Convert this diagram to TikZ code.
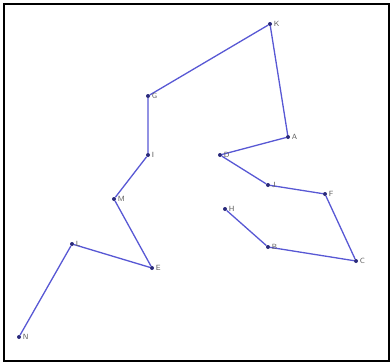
\documentclass[tikz,border=0pt]{standalone}
\usepackage{xcolor}
\usepackage{tikz}
\usetikzlibrary{positioning}
\definecolor{ptblue}{HTML}{2A2A7C}
\definecolor{lnblue}{HTML}{5858D4}
\definecolor{lbgray}{HTML}{5A5A5A}
\tikzset{
  pt/.style={circle, fill=ptblue, inner sep=0pt, minimum size=4pt},
  lbl/.style={font=\sffamily\fontsize{7.5}{8}\selectfont, text=lbgray, inner sep=1pt},
  seg/.style={draw=lnblue, line width=1.3pt},
  frame/.style={draw=black, line width=1.2pt},
}
\begin{document}
\begin{tikzpicture}[x=1pt,y=-1pt]
\useasboundingbox (0,0) rectangle (391,364);

% ---------- frame ----------
\draw[frame] (4,4) rectangle (389,361);

% ---------- points ----------
\node[pt] (K) at (270,24) {};
\node[pt] (G) at (148,96) {};
\node[pt] (I) at (148,155) {};
\node[pt] (M) at (114,199) {};
\node[pt] (L) at (72,244) {};
\node[pt] (E) at (152,268) {};
\node[pt] (N) at (19,337) {};
\node[pt] (A) at (288,137) {};
\node[pt] (D) at (220,155) {};
\node[pt] (J) at (268,185) {};
\node[pt] (F) at (325,194) {};
\node[pt] (H) at (225,209) {};
\node[pt] (B) at (268,247) {};
\node[pt] (C) at (356,261) {};

% ---------- path ----------
\draw[seg] (N) -- (L) -- (E) -- (M) -- (I) -- (G) -- (K) -- (A)
  -- (D) -- (J) -- (F) -- (C) -- (B) -- (H);

% ---------- labels ----------
\foreach \p in {K,G,I,M,L,E,N,A,D,J,F,H,B,C}
  \node[lbl,right=0.5pt of \p] (l\p) {\p};
\end{tikzpicture}
\end{document}
